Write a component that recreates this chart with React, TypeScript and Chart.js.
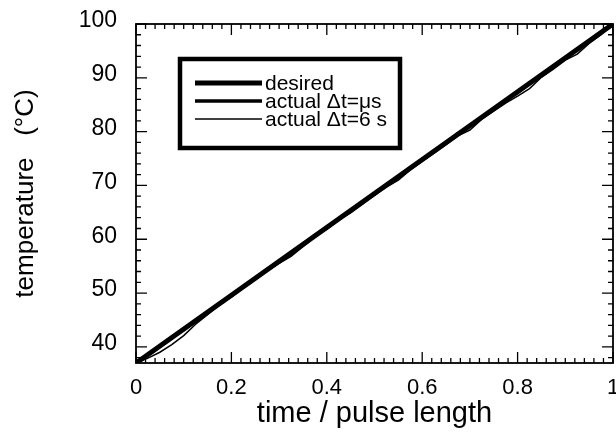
import React, { useEffect, useRef } from 'react';
import { Chart, registerables } from 'chart.js';

Chart.register(...registerables);

// ---- data ----
const xValues = [
  0, 0.025, 0.05, 0.075, 0.1, 0.125, 0.15, 0.175, 0.2, 0.225,
  0.25, 0.275, 0.3, 0.325, 0.35, 0.375, 0.4, 0.425, 0.45, 0.475,
  0.5, 0.525, 0.55, 0.575, 0.6, 0.625, 0.65, 0.675, 0.7, 0.725,
  0.75, 0.775, 0.8, 0.825, 0.85, 0.875, 0.9, 0.925, 0.95, 0.975, 1,
];
const desiredX = [0, 1];
const desiredY = [37, 100];
const actualUsY = [
  37.0, 38.5, 40.1, 41.8, 43.2, 44.9, 46.4, 48.0, 49.5, 51.2,
  52.7, 54.4, 55.8, 57.5, 59.0, 60.7, 62.1, 63.8, 65.3, 66.9,
  68.4, 70.1, 71.6, 73.3, 74.7, 76.4, 77.9, 79.6, 81.0, 82.7,
  84.2, 85.8, 87.3, 89.0, 90.5, 92.1, 93.6, 95.3, 96.8, 98.4, 100,
];
const actual6sY = [
  37.0, 37.9, 39.0, 40.4, 42.1, 44.2, 46.0, 47.8, 49.3, 51.0,
  52.5, 54.1, 55.5, 56.8, 58.6, 60.4, 62.0, 63.6, 64.9, 66.5,
  68.2, 69.7, 71.0, 72.9, 74.5, 76.0, 77.6, 79.2, 80.3, 82.3,
  83.8, 85.3, 86.6, 88.0, 90.1, 91.6, 93.3, 94.4, 96.4, 98.0, 100,
];
const seriesLabels = ['desired', 'actual \u0394t=\u03bcs', 'actual \u0394t=6 s'];
const xTickValues = [0, 0.2, 0.4, 0.6, 0.8, 1];
const yTickValues = [40, 50, 60, 70, 80, 90, 100];
const xTitle = 'time / pulse length';
const yTitle = 'temperature   (\u00b0C)';

const FONT = "'Liberation Sans', Arial, Helvetica, sans-serif";

const frameAndTicks = {
  id: 'frameAndTicks',
  afterDatasetsDraw(chart: any) {
    const { ctx, chartArea: a, scales } = chart;
    const xs = scales.x;
    const ys = scales.y;
    ctx.save();
    ctx.strokeStyle = '#000';
    ctx.lineWidth = 1.8;
    ctx.strokeRect(a.left, a.top, a.right - a.left, a.bottom - a.top);
    ctx.lineWidth = 1.3;
    ctx.beginPath();
    for (let i = 0; i <= 50; i++) {
      const px = xs.getPixelForValue(i * 0.02);
      const len = i % 10 === 0 ? 11 : 5;
      ctx.moveTo(px, a.bottom);
      ctx.lineTo(px, a.bottom - len);
      ctx.moveTo(px, a.top);
      ctx.lineTo(px, a.top + len);
    }
    for (let v = 38; v <= 100; v += 2) {
      const py = ys.getPixelForValue(v);
      const len = v % 10 === 0 ? 11 : 5;
      ctx.moveTo(a.left, py);
      ctx.lineTo(a.left + len, py);
      ctx.moveTo(a.right, py);
      ctx.lineTo(a.right - len, py);
    }
    ctx.stroke();
    ctx.restore();
  },
};

const boxLegend = {
  id: 'boxLegend',
  afterDraw(chart: any) {
    const { ctx } = chart;
    const left = 180, top = 59, w = 220, h = 89;
    ctx.save();
    ctx.fillStyle = '#fff';
    ctx.fillRect(left, top, w, h);
    ctx.strokeStyle = '#000';
    ctx.lineWidth = 4.5;
    ctx.strokeRect(left, top, w, h);
    const rows = [83, 101, 119];
    ctx.font = `21px ${FONT}`;
    ctx.fillStyle = '#000';
    ctx.textBaseline = 'middle';
    chart.data.datasets.forEach((ds: any, i: number) => {
      const y = rows[i];
      ctx.lineWidth = ds.borderWidth;
      ctx.beginPath();
      ctx.moveTo(195, y);
      ctx.lineTo(262, y);
      ctx.stroke();
      ctx.fillText(ds.label, 265, y + 1);
    });
    ctx.restore();
  },
};

export default function App() {
  const ref = useRef<HTMLCanvasElement | null>(null);
  useEffect(() => {
    if (!ref.current) return;
    const chart = new Chart(ref.current, {
      type: 'line',
      data: {
        datasets: [
          {
            label: seriesLabels[0],
            data: desiredX.map((x, i) => ({ x, y: desiredY[i] })),
            borderColor: '#000',
            borderWidth: 5,
            pointRadius: 0,
            order: 3,
          },
          {
            label: seriesLabels[1],
            data: xValues.map((x, i) => ({ x, y: actualUsY[i] })),
            borderColor: '#000',
            borderWidth: 3.5,
            pointRadius: 0,
            order: 2,
          },
          {
            label: seriesLabels[2],
            data: xValues.map((x, i) => ({ x, y: actual6sY[i] })),
            borderColor: '#000',
            borderWidth: 1.5,
            pointRadius: 0,
            order: 1,
          },
        ],
      },
      options: {
        animation: false,
        responsive: false,
        devicePixelRatio: 1,
        layout: { padding: { top: 24, right: 3, left: 0, bottom: 0 } },
        plugins: { legend: { display: false }, tooltip: { enabled: false } },
        scales: {
          x: {
            type: 'linear',
            min: 0,
            max: 1,
            grid: { display: false, drawTicks: false },
            border: { display: false },
            afterBuildTicks: (s: any) => {
              s.ticks = xTickValues.map((v) => ({ value: v }));
            },
            afterFit: (s: any) => {
              s.height = 77;
              s.paddingLeft = 0;
              s.paddingRight = 0;
            },
            ticks: {
              color: '#000',
              font: { family: FONT, size: 22 },
              padding: 12,
              maxRotation: 0,
              autoSkip: false,
              callback: (v: any) => String(v),
            },
            title: {
              display: true,
              text: xTitle,
              color: '#000',
              font: { family: FONT, size: 29 },
              padding: { top: 0, bottom: 9 },
            },
          },
          y: {
            type: 'linear',
            min: 37,
            max: 100,
            grid: { display: false, drawTicks: false },
            border: { display: false },
            afterBuildTicks: (s: any) => {
              s.ticks = yTickValues.map((v) => ({ value: v }));
            },
            afterFit: (s: any) => {
              s.width = 136;
              s.paddingTop = 0;
              s.paddingBottom = 0;
            },
            ticks: {
              color: '#000',
              font: { family: FONT, size: 23 },
              padding: 19,
              labelOffset: -3,
              autoSkip: false,
              callback: (v: any) => String(v),
            },
            title: {
              display: true,
              text: yTitle,
              color: '#000',
              font: { family: FONT, size: 26 },
              padding: { top: 10, bottom: 0 },
            },
          },
        },
      },
      plugins: [frameAndTicks, boxLegend],
    });
    return () => chart.destroy();
  }, []);
  return (
    <div style={{ position: 'fixed', left: 0, top: 0, width: 616, height: 440, background: '#fff' }}>
      <canvas ref={ref} width={616} height={440} style={{ display: 'block' }} />
    </div>
  );
}
